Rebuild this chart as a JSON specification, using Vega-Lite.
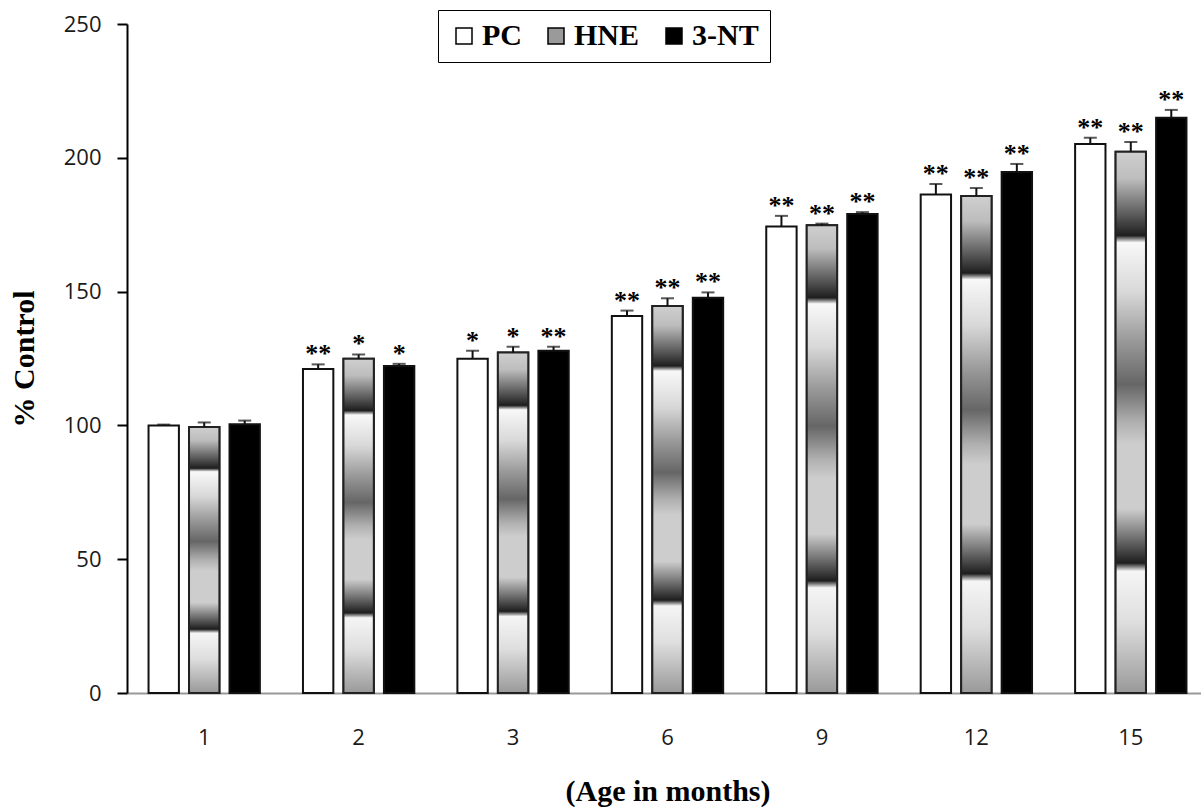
{
  "$schema": "https://vega.github.io/schema/vega-lite/v6.json",
  "autosize": "none",
  "padding": {"left": 127, "top": 24, "right": 0, "bottom": 114},
  "width": 1081,
  "height": 669,
  "background": "white",
  "config": {"view": {"stroke": null}},
  "data": {
    "values": [
      {"age": "1", "group": "PC", "value": 100.0, "upper": 100.3, "sig": ""},
      {"age": "1", "group": "HNE", "value": 99.4, "upper": 101.1, "sig": ""},
      {"age": "1", "group": "3-NT", "value": 100.4, "upper": 101.8, "sig": ""},
      {"age": "2", "group": "PC", "value": 121.1, "upper": 122.8, "sig": "**"},
      {"age": "2", "group": "HNE", "value": 124.9, "upper": 126.5, "sig": "*"},
      {"age": "2", "group": "3-NT", "value": 122.2, "upper": 123.0, "sig": "*"},
      {"age": "3", "group": "PC", "value": 124.9, "upper": 127.9, "sig": "*"},
      {"age": "3", "group": "HNE", "value": 127.2, "upper": 129.4, "sig": "*"},
      {"age": "3", "group": "3-NT", "value": 127.9, "upper": 129.4, "sig": "**"},
      {"age": "6", "group": "PC", "value": 140.9, "upper": 142.9, "sig": "**"},
      {"age": "6", "group": "HNE", "value": 144.6, "upper": 147.5, "sig": "**"},
      {"age": "6", "group": "3-NT", "value": 147.7, "upper": 149.7, "sig": "**"},
      {"age": "9", "group": "PC", "value": 174.3, "upper": 178.3, "sig": "**"},
      {"age": "9", "group": "HNE", "value": 174.8, "upper": 175.4, "sig": "**"},
      {"age": "9", "group": "3-NT", "value": 179.0, "upper": 179.7, "sig": "**"},
      {"age": "12", "group": "PC", "value": 186.3, "upper": 190.2, "sig": "**"},
      {"age": "12", "group": "HNE", "value": 185.7, "upper": 188.7, "sig": "**"},
      {"age": "12", "group": "3-NT", "value": 194.7, "upper": 197.7, "sig": "**"},
      {"age": "15", "group": "PC", "value": 205.2, "upper": 207.5, "sig": "**"},
      {"age": "15", "group": "HNE", "value": 202.3, "upper": 205.9, "sig": "**"},
      {"age": "15", "group": "3-NT", "value": 215.0, "upper": 217.9, "sig": "**"}
    ]
  },
  "encoding": {
    "x": {
      "field": "age", "type": "nominal",
      "sort": ["1", "2", "3", "6", "9", "12", "15"],
      "scale": {"paddingInner": 0.279, "paddingOuter": 0.1395},
      "axis": {
        "title": "(Age in months)",
        "titleFont": "Liberation Serif", "titleFontWeight": "bold", "titleFontSize": 30, "titleColor": "black",
        "titlePadding": 28,
        "labelAngle": 0, "labelFont": "Open Sans", "labelFontSize": 22, "labelColor": "#1a1a1a",
        "labelPadding": 34, "ticks": false,
        "domainColor": "#999999", "domainWidth": 2
      }
    },
    "xOffset": {
      "field": "group", "type": "nominal",
      "scale": {"domain": ["PC", "HNE", "3-NT"], "paddingInner": 0.25, "paddingOuter": 0}
    }
  },
  "layer": [
    {
      "mark": {"type": "bar", "stroke": "#111111", "strokeWidth": 2},
      "encoding": {
        "y": {
          "field": "value", "type": "quantitative",
          "scale": {"domain": [0, 250], "nice": false},
          "axis": {
            "title": "% Control",
            "titleFont": "Liberation Serif", "titleFontWeight": "bold", "titleFontSize": 30, "titleColor": "black",
            "titlePadding": 24,
            "values": [0, 50, 100, 150, 200, 250],
            "grid": false,
            "labelFont": "Open Sans", "labelFontSize": 22, "labelColor": "#1a1a1a", "labelPadding": 16,
            "tickColor": "black", "tickWidth": 2, "tickSize": 10,
            "domainColor": "black", "domainWidth": 2
          }
        },
        "color": {
          "field": "group", "type": "nominal",
          "scale": {"domain": ["PC", "HNE", "3-NT"], "range": ["white", "#9a9a9a", "black"]},
          "legend": {
            "orient": "none", "legendX": 311, "legendY": -14,
            "direction": "horizontal", "title": null,
            "symbolType": "square", "symbolSize": 256,
            "symbolStrokeColor": "black", "symbolStrokeWidth": 1.5, "symbolOpacity": 1,
            "labelFont": "Liberation Serif", "labelFontWeight": "bold", "labelFontSize": 30, "labelColor": "black",
            "labelOffset": 3, "columnPadding": 19,
            "strokeColor": "black", "padding": 11
          }
        }
      }
    },
    {
      "transform": [{"filter": "datum.group === 'HNE'"}],
      "mark": {
        "type": "bar", "stroke": "#222222", "strokeWidth": 2,
        "fill": {
          "gradient": "linear", "x1": 0, "y1": 0, "x2": 0, "y2": 1,
          "stops": [
            {"offset": 0, "color": "#cfcfcf"},
            {"offset": 0.05, "color": "#bdbdbd"},
            {"offset": 0.12, "color": "#555555"},
            {"offset": 0.155, "color": "#1e1e1e"},
            {"offset": 0.168, "color": "#f8f8f8"},
            {"offset": 0.26, "color": "#d8d8d8"},
            {"offset": 0.35, "color": "#999999"},
            {"offset": 0.43, "color": "#666666"},
            {"offset": 0.5, "color": "#b0b0b0"},
            {"offset": 0.54, "color": "#cdcdcd"},
            {"offset": 0.66, "color": "#cdcdcd"},
            {"offset": 0.71, "color": "#777777"},
            {"offset": 0.76, "color": "#1e1e1e"},
            {"offset": 0.775, "color": "#f5f5f5"},
            {"offset": 0.87, "color": "#dedede"},
            {"offset": 1, "color": "#999999"}
          ]
        }
      },
      "encoding": {
        "y": {"field": "value", "type": "quantitative"}
      }
    },
    {
      "mark": {"type": "rule", "color": "#111111", "strokeWidth": 2},
      "encoding": {
        "y": {"field": "value", "type": "quantitative"},
        "y2": {"field": "upper"}
      }
    },
    {
      "mark": {"type": "tick", "color": "#111111", "size": 13, "thickness": 2},
      "encoding": {
        "y": {"field": "upper", "type": "quantitative"}
      }
    },
    {
      "mark": {"type": "text", "font": "Liberation Serif", "fontWeight": "bold", "fontSize": 26, "color": "black", "baseline": "alphabetic", "dy": -2},
      "encoding": {
        "y": {"field": "upper", "type": "quantitative"},
        "text": {"field": "sig"}
      }
    }
  ]
}
